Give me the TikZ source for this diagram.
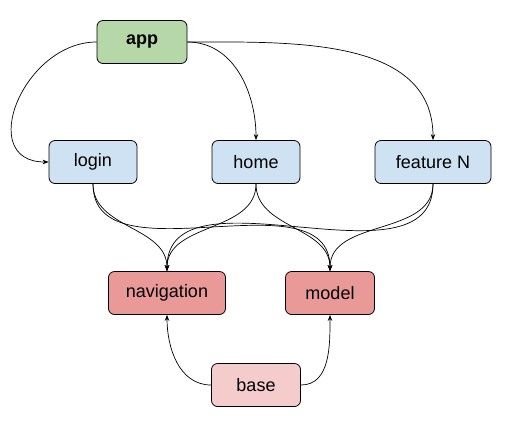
\documentclass[tikz,border=0pt]{standalone}
\usepackage{fontspec}
\setmainfont{Liberation Sans}
\usetikzlibrary{arrows.meta}

\definecolor{appgreen}{RGB}{182,215,168}
\definecolor{featblue}{RGB}{207,226,243}
\definecolor{corered}{RGB}{234,153,153}
\definecolor{basepink}{RGB}{244,204,204}

\begin{document}
\begin{tikzpicture}[x=1pt,y=-1pt]

        \useasboundingbox (0,0) rectangle (516,440);

        \begin{scope}[every node/.style={draw, rounded corners=6pt, line width=0.8pt, minimum height=43pt, inner sep=0pt, font=\fontsize{18}{20}\selectfont}]
          \node[fill=appgreen, minimum width=90pt, font=\fontsize{18}{20}\selectfont\bfseries] (1) at (142,42) {app};
          \node[fill=featblue, minimum width=88pt]  (2) at (93,162)  {login};
          \node[fill=featblue, minimum width=88pt]  (3) at (256,162) {home};
          \node[fill=featblue, minimum width=116pt] (4) at (433,162) {feature N};
          \node[fill=corered, minimum width=117pt]  (5) at (167,293) {navigation};
          \node[fill=corered, minimum width=89pt]   (6) at (330,293) {model};
          \node[fill=basepink, minimum width=89pt]  (7) at (256,385) {base};
        \end{scope}

        \begin{scope}[every edge/.style={draw, line width=0.7pt, -{Stealth[length=6pt,width=4.5pt]}}]
          \path (1.west)  edge[out=180,in=180,looseness=1.45] (2.west);
          \path (1.east)  edge[out=0,in=90] (3.north);
          \path (1.east)  edge[out=0,in=90] (4.north);
          \path (2.south) edge[out=-90,in=90] (5.north);
          \path (2.south) edge[out=-90,in=90] (6.north);
          \path (3.south) edge[out=-90,in=90] (5.north);
          \path (3.south) edge[out=-90,in=90] (6.north);
          \path (4.south) edge[out=-90,in=90] (5.north);
          \path (4.south) edge[out=-90,in=90] (6.north);
          \path (7.west)  edge[out=180,in=-90] (5.south);
          \path (7.east)  edge[out=0,in=-90] (6.south);
        \end{scope}

      \end{tikzpicture}
\end{document}
